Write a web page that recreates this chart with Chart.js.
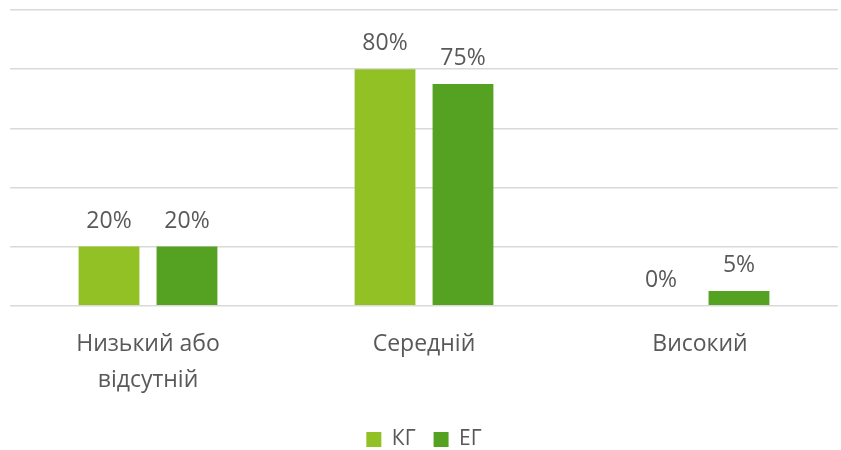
<!DOCTYPE html>
<html>
<head>
<meta charset="utf-8">
<script src="https://cdn.jsdelivr.net/npm/chart.js@4.4.1/dist/chart.umd.min.js"></script>
<style>
  html, body { margin: 0; padding: 0; background: #fff; }
  #wrap { width: 841px; height: 450px; }
</style>
</head>
<body>
<div id="wrap"><canvas id="myChart"></canvas></div>
<script>
// chart data
const categories = [['Низький або', 'відсутній'], 'Середній', 'Високий'];
const seriesNames = ['КГ', 'ЕГ'];
const kgValues = [20, 80, 0];
const egValues = [20, 75, 5];
const colors = ['#92c126', '#55a122'];

const textColor = '#595959';
const fontFamily = '"Open Sans", "Noto Sans", sans-serif';

// value labels above bars
const barLabels = {
    id: 'barLabels',
    afterDatasetsDraw(chart) {
        const ctx = chart.ctx;
        ctx.save();
        ctx.font = '23px ' + fontFamily;
        ctx.fillStyle = textColor;
        ctx.textAlign = 'center';
        ctx.textBaseline = 'bottom';
        chart.data.datasets.forEach(function (ds, i) {
            chart.getDatasetMeta(i).data.forEach(function (bar, j) {
                ctx.fillText(ds.data[j] + '%', bar.x, bar.y - 14);
            });
        });
        ctx.restore();
    }
};

const ctx = document.getElementById('myChart');

new Chart(ctx, {
    type: 'bar',
    data: {
        labels: categories,
        datasets: [{
            label: seriesNames[0],
            data: kgValues,
            backgroundColor: colors[0],
            barPercentage: 0.78,
            categoryPercentage: 0.565
        }, {
            label: seriesNames[1],
            data: egValues,
            backgroundColor: colors[1],
            barPercentage: 0.78,
            categoryPercentage: 0.565
        }]
    },
    options: {
        responsive: true,
        maintainAspectRatio: false,
        animation: false,
        layout: {
            padding: { left: 10, right: 3, top: 10, bottom: -10 }
        },
        plugins: {
            legend: {
                position: 'bottom',
                labels: {
                    color: textColor,
                    font: { family: fontFamily, size: 21 },
                    boxWidth: 15,
                    boxHeight: 15,
                    padding: 18
                }
            },
            tooltip: { enabled: false }
        },
        scales: {
            x: {
                grid: { display: false },
                border: { display: false },
                ticks: {
                    color: textColor,
                    font: { family: fontFamily, size: 23, lineHeight: 1.55 },
                    padding: 13,
                    maxRotation: 0
                }
            },
            y: {
                min: 0,
                max: 100,
                ticks: { stepSize: 20, display: false },
                grid: { color: '#d9d9d9', lineWidth: 1.5, drawTicks: false },
                border: { display: false }
            }
        }
    },
    plugins: [barLabels]
});
</script>
</body>
</html>
